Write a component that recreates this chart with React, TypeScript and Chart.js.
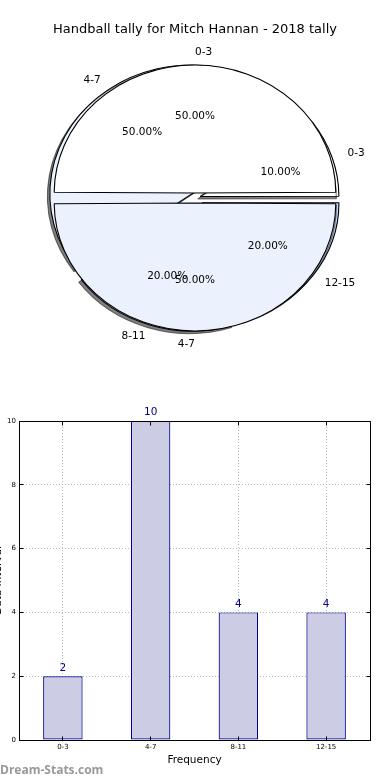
import React, { useEffect, useRef } from 'react';
import { Chart, registerables } from 'chart.js';

Chart.register(...registerables);

// ---------- data ----------
const TITLE = 'Handball tally for Mitch Hannan - 2018 tally';
const categories = ['0-3', '4-7', '8-11', '12-15'];
const frequencies = [2, 10, 4, 4];
const halfLabels = ['0-3', '4-7'];
const halfValues = [1, 1];
const yTickValues = [0, 2, 4, 6, 8, 10];
const X_TITLE = 'Frequency';
const Y_TITLE = 'Data Interval';
const WATERMARK = 'Dream-Stats.com';

// ---------- style ----------
const FONT = "'DejaVu Sans', sans-serif";
const SX = 1.1; // horizontal stretch of the pie (ellipse)
const PIE_R = 128; // visible radius
const EXPLODE = 5; // label shift from explosion
const HALF_OFFSET = 20;
const QUARTER_OFFSETS = [20, 20, 36, 32]; // in category order 0-3, 4-7, 8-11, 12-15
const R_HALF = PIE_R - HALF_OFFSET / 4;
const R_QUARTER = 124;
const halfColors = ['#ffffff', '#ebf1fd'];
const quarterColors = ['#ffffff', '#ebf1fd', '#dde8fb', '#c3d9f7'];

function drawPieLabels(ctx: CanvasRenderingContext2D, chart: Chart) {
  const meta = chart.getDatasetMeta(0);
  const values = chart.data.datasets[0].data as number[];
  const total = values.reduce((a, b) => a + b, 0);
  const labels = chart.data.labels as string[];
  ctx.save();
  ctx.font = `10.5px ${FONT}`;
  ctx.fillStyle = '#000';
  ctx.textBaseline = 'middle';
  meta.data.forEach((el: any, i: number) => {
    const mid = (el.startAngle + el.endAngle) / 2;
    const c = Math.cos(mid);
    const s = Math.sin(mid);
    const pos = (f: number) => ({
      x: el.x + SX * c * (EXPLODE + PIE_R * f),
      y: el.y + s * (EXPLODE + PIE_R * f),
    });
    const p1 = pos(1.1);
    let align: CanvasTextAlign;
    if (Math.abs(c) < 1e-6) align = s < 0 ? 'left' : 'right';
    else align = c > 0 ? 'left' : 'right';
    ctx.textAlign = align;
    ctx.fillText(labels[i], p1.x, p1.y);
    const p2 = pos(0.6);
    ctx.textAlign = 'center';
    ctx.fillText(((values[i] / total) * 100).toFixed(2) + '%', p2.x, p2.y);
  });
  ctx.restore();
}

function makeEllipsePlugin(shadow: boolean) {
  return {
    id: 'ellipse',
    beforeDatasetsDraw(chart: any) {
      const ctx = chart.ctx;
      const { left, right, top, bottom } = chart.chartArea;
      const cx = (left + right) / 2;
      const cy = (top + bottom) / 2;
      ctx.save();
      ctx.translate(cx, cy);
      ctx.scale(SX, 1);
      ctx.translate(-cx, -cy);
      if (shadow) {
        ctx.shadowColor = 'rgba(0,0,0,0.5)';
        ctx.shadowOffsetX = -2.5;
        ctx.shadowOffsetY = 2.5;
        ctx.shadowBlur = 0;
      }
    },
    afterDatasetsDraw(chart: any) {
      chart.ctx.restore();
    },
  };
}

function pieOptions(rotation: number, radius: number, titleColor: string): any {
  return {
    animation: false,
    responsive: false,
    radius,
    rotation,
    layout: { padding: { top: 0, bottom: 32, left: 0, right: 0 } },
    plugins: {
      legend: { display: false },
      tooltip: { enabled: false },
      title: {
        display: true,
        text: TITLE,
        color: titleColor,
        font: { family: FONT, size: 13, weight: 'normal' },
        padding: { top: 22.2, bottom: 10.2 },
      },
    },
  };
}

const align = (p: number) => Math.round(p - 0.5) + 0.5;

const barDecor = {
  id: 'barDecor',
  afterDatasetsDraw(chart: any) {
    const ctx = chart.ctx;
    const meta = chart.getDatasetMeta(0);
    const values = chart.data.datasets[0].data as number[];
    ctx.save();
    ctx.font = `10.5px ${FONT}`;
    ctx.fillStyle = '#00008b';
    ctx.textAlign = 'center';
    ctx.textBaseline = 'bottom';
    meta.data.forEach((bar: any, i: number) => {
      ctx.fillText(String(values[i]), bar.x, bar.y - 3);
    });
    ctx.restore();
  },
  afterDraw(chart: any) {
    const ctx = chart.ctx;
    const { left, right, top, bottom } = chart.chartArea;
    const l = align(left), r = align(right), t = align(top), b = align(bottom);
    ctx.save();
    ctx.strokeStyle = '#000';
    ctx.lineWidth = 1;
    ctx.beginPath();
    ctx.rect(l, t, r - l, b - t);
    ctx.stroke();
    const ys = chart.scales.y;
    const xs = chart.scales.x;
    ctx.beginPath();
    yTickValues.forEach((v) => {
      const py = align(ys.getPixelForValue(v));
      ctx.moveTo(l, py); ctx.lineTo(l + 4, py);
      ctx.moveTo(r, py); ctx.lineTo(r - 4, py);
    });
    categories.forEach((_, i) => {
      const px = align(xs.getPixelForTick(i));
      ctx.moveTo(px, b); ctx.lineTo(px, b - 4);
      ctx.moveTo(px, t); ctx.lineTo(px, t + 4);
    });
    ctx.stroke();
    ctx.restore();
  },
};

export default function App() {
  const quarterRef = useRef<HTMLCanvasElement>(null);
  const halfRef = useRef<HTMLCanvasElement>(null);
  const barRef = useRef<HTMLCanvasElement>(null);

  useEffect(() => {
    const quarter = new Chart(quarterRef.current!, {
      type: 'pie',
      data: {
        labels: [...categories].reverse(),
        datasets: [
          {
            data: [...frequencies].reverse(),
            backgroundColor: [...quarterColors].reverse(),
            offset: [...QUARTER_OFFSETS].reverse(),
            borderColor: '#000',
            borderWidth: 1,
            clip: false,
          } as any,
        ],
      },
      options: pieOptions(90, R_QUARTER, 'rgba(0,0,0,0)'),
      plugins: [makeEllipsePlugin(true)],
    });

    const half = new Chart(halfRef.current!, {
      type: 'pie',
      data: {
        labels: halfLabels,
        datasets: [
          {
            data: halfValues,
            backgroundColor: halfColors,
            borderColor: '#000',
            borderWidth: 1,
            offset: HALF_OFFSET,
            clip: false,
          } as any,
        ],
      },
      options: pieOptions(270, R_HALF, '#000'),
      plugins: [
        makeEllipsePlugin(false),
        {
          id: 'pieLabels',
          afterDraw(chart: any) {
            drawPieLabels(chart.ctx, quarter);
            drawPieLabels(chart.ctx, chart);
          },
        },
      ],
    });

    const bar = new Chart(barRef.current!, {
      type: 'bar',
      data: {
        labels: categories,
        datasets: [
          {
            data: frequencies,
            backgroundColor: '#ccccE5',
            borderColor: '#00008b',
            borderWidth: 1.2,
            borderSkipped: false,
            barPercentage: 0.45,
            categoryPercentage: 1,
          } as any,
        ],
      },
      options: {
        animation: false,
        responsive: false,
        layout: { padding: { left: 0, right: 20, top: 21, bottom: 9 } },
        plugins: {
          legend: { display: false },
          tooltip: { enabled: false },
        },
        scales: {
          x: {
            grid: { offset: false, color: '#b8b8b8', drawTicks: false },
            border: { color: '#000', dash: [1, 2] },
            ticks: { font: { family: FONT, size: 7 }, color: '#000', padding: 3 },
            title: {
              display: true,
              text: X_TITLE,
              color: '#000',
              font: { family: FONT, size: 10.5 },
              padding: { top: 4, bottom: 4 },
            },
            afterFit: (s: any) => { s.height = 31; },
          },
          y: {
            min: 0,
            max: 10,
            grid: { color: '#b8b8b8', drawTicks: false },
            border: { color: '#000', dash: [1, 2] },
            ticks: { font: { family: FONT, size: 7 }, color: '#000', padding: 3 },
            afterBuildTicks: (s: any) => { s.ticks = yTickValues.map((v) => ({ value: v })); },
            title: {
              display: true,
              text: Y_TITLE,
              color: '#000',
              font: { family: FONT, size: 10.5 },
              padding: { top: 4, bottom: 4 },
            },
            afterFit: (s: any) => { s.width = 31; },
          },
        },
      } as any,
      plugins: [barDecor],
    });

    return () => {
      half.destroy();
      quarter.destroy();
      bar.destroy();
    };
  }, []);

  const abs: React.CSSProperties = { position: 'absolute', display: 'block' };

  return (
    <div style={{ position: 'absolute', left: 0, top: 0, width: 390, height: 780, overflow: 'hidden', background: '#fff' }}>
      <canvas ref={quarterRef} width={390} height={380} style={{ ...abs, left: 0, top: 0, width: 390, height: 380 }} />
      <canvas ref={halfRef} width={390} height={380} style={{ ...abs, left: 0, top: 0, width: 390, height: 380 }} />
      <canvas ref={barRef} width={402} height={380} style={{ ...abs, left: -12, top: 400, width: 402, height: 380 }} />
      <div
        style={{
          position: 'absolute',
          left: 0,
          top: 762,
          fontFamily: "'Open Sans', sans-serif",
          fontWeight: 700,
          fontSize: 12,
          lineHeight: '16px',
          color: '#999999',
          whiteSpace: 'nowrap',
        }}
      >
        {WATERMARK}
      </div>
    </div>
  );
}
